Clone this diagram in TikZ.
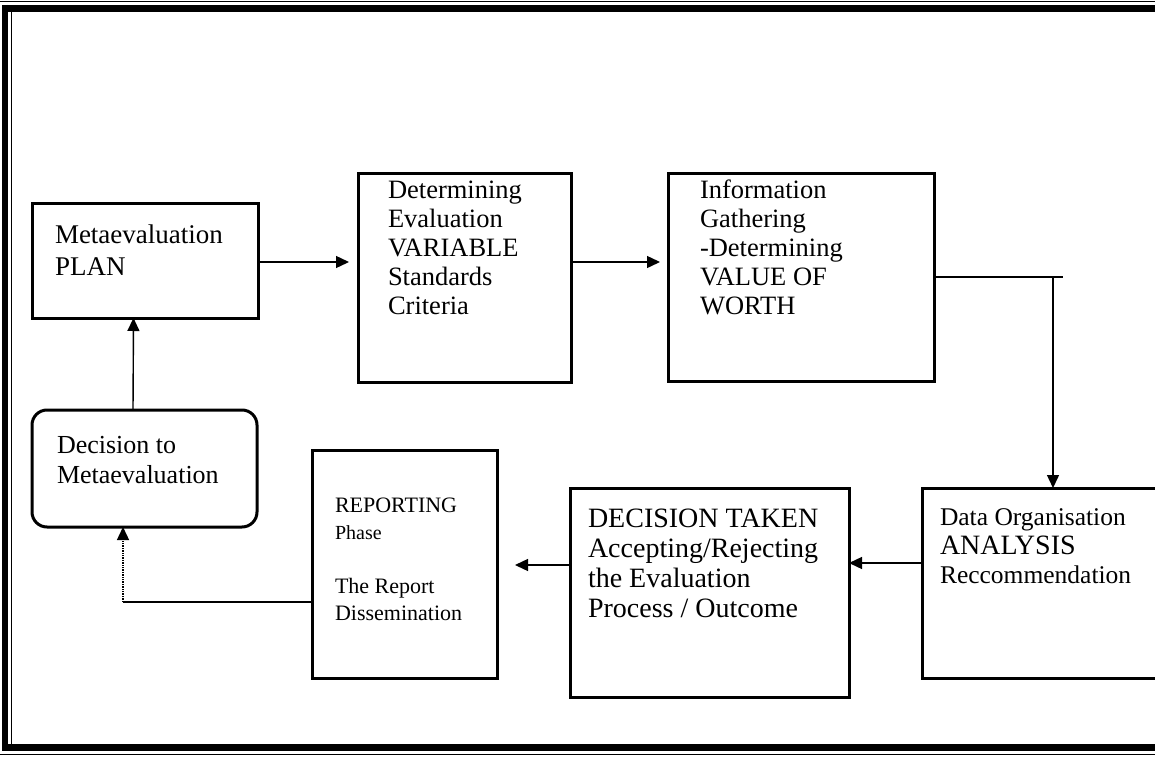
\documentclass[tikz,border=0pt]{standalone}
\usepackage{fontspec}
\setmainfont{Liberation Serif}
\usetikzlibrary{arrows.meta}
\tikzset{
  box/.style={draw, line width=3pt, inner sep=0pt, outer sep=0pt, anchor=north west},
  lbl/.style={anchor=base west, inner sep=0pt, outer sep=0pt},
  arr/.style={line width=1.4pt, -{Triangle[length=13pt,width=12pt]}},
  link/.style={line width=1.4pt},
}
\newcommand{\boxtext}[2]{\parbox[t]{#1}{\raggedright #2}}
\begin{document}
\begin{tikzpicture}[x=1pt,y=-1pt]
\useasboundingbox (0,0) rectangle (1155,757);
\clip (0,0) rectangle (1155,757);
% frame
\draw[line width=1pt] (0,1.5) -- (1155,1.5);
\draw[line width=7pt] (2,8.5) -- (1155,8.5);
\draw[line width=6pt] (5,5) -- (5,751);
\draw[line width=1pt] (11,12) -- (11,744);
\draw[line width=7pt] (2,747.5) -- (1155,747.5);
\draw[line width=1pt] (0,754.5) -- (1155,754.5);
% boxes
\node[box, minimum width=226pt, minimum height=115pt] (plan) at (32,203) {};
\node[box, rounded corners=15pt, minimum width=225pt, minimum height=117pt] (dec) at (32,410) {};
\node[box, minimum width=213pt, minimum height=209pt] (det) at (358,173) {};
\node[box, minimum width=266pt, minimum height=208pt] (info) at (668,173) {};
\node[box, minimum width=260pt, minimum height=190pt] (data) at (922,488) {};
\node[box, minimum width=279pt, minimum height=209pt] (decision) at (570,488) {};
\node[box, minimum width=185pt, minimum height=228pt] (rep) at (312,450) {};
% texts
\node[lbl, font=\fontsize{27}{32}\selectfont] (plant) at (55,243)
  {\boxtext{200pt}{Metaevaluation\\PLAN}};
\node[lbl, font=\fontsize{26}{30}\selectfont] (dect) at (57,453)
  {\boxtext{200pt}{Decision to\\Metaevaluation}};
\node[lbl, font=\fontsize{26.5}{29}\selectfont] (dett) at (388,198)
  {\boxtext{180pt}{Determining\\Evaluation\\VARIABLE\\Standards\\Criteria}};
\node[lbl, font=\fontsize{26.5}{29}\selectfont] (infot) at (700,198)
  {\boxtext{230pt}{Information\\Gathering\\-Determining\\VALUE OF\\WORTH}};
\node[lbl, font=\fontsize{28}{30}\selectfont] (decisiont) at (588,527)
  {\boxtext{260pt}{DECISION TAKEN\\Accepting/Rejecting\\the Evaluation\\Process / Outcome}};
\node[lbl, font=\fontsize{22}{27}\selectfont] (rept) at (335,512)
  {\boxtext{160pt}{REPORTING\\{\fontsize{20}{27}\selectfont Phase}\\[27pt]The Report\\Dissemination}};
\node[lbl, font=\fontsize{25.5}{29}\selectfont] (datat) at (940,525)
  {\boxtext{215pt}{Data Organisation\\{\fontsize{28}{29}\selectfont ANALYSIS}\\Reccommendation}};
% connectors
\coordinate (ya) at (0,262);
\coordinate (yb) at (0,563);
\coordinate (yc) at (0,565);
\coordinate (turn) at (1053,277);
\coordinate (stub) at (1063,277);
\coordinate (corner) at (123,602);
\draw[arr, shorten >=9pt] (plan.east |- ya) -- (det.west |- ya);
\draw[arr, shorten >=8pt] (det.east |- ya) -- (info.west |- ya);
\draw[link] (info.east |- turn) -- (stub);
\draw[arr] (turn) -- (turn |- data.north);
\draw[arr] (data.west |- yb) -- (decision.east |- yb);
\draw[arr, shorten >=18pt] (decision.west |- yc) -- (rep.east |- yc);
\draw[link] (rep.west |- corner) -- (corner);
\draw[arr, densely dotted] (corner) -- (corner |- dec.south);
\draw[arr] ([xshift=-11.5pt]dec.north) -- ([xshift=-11.5pt]plan.south);
\end{tikzpicture}
\end{document}
